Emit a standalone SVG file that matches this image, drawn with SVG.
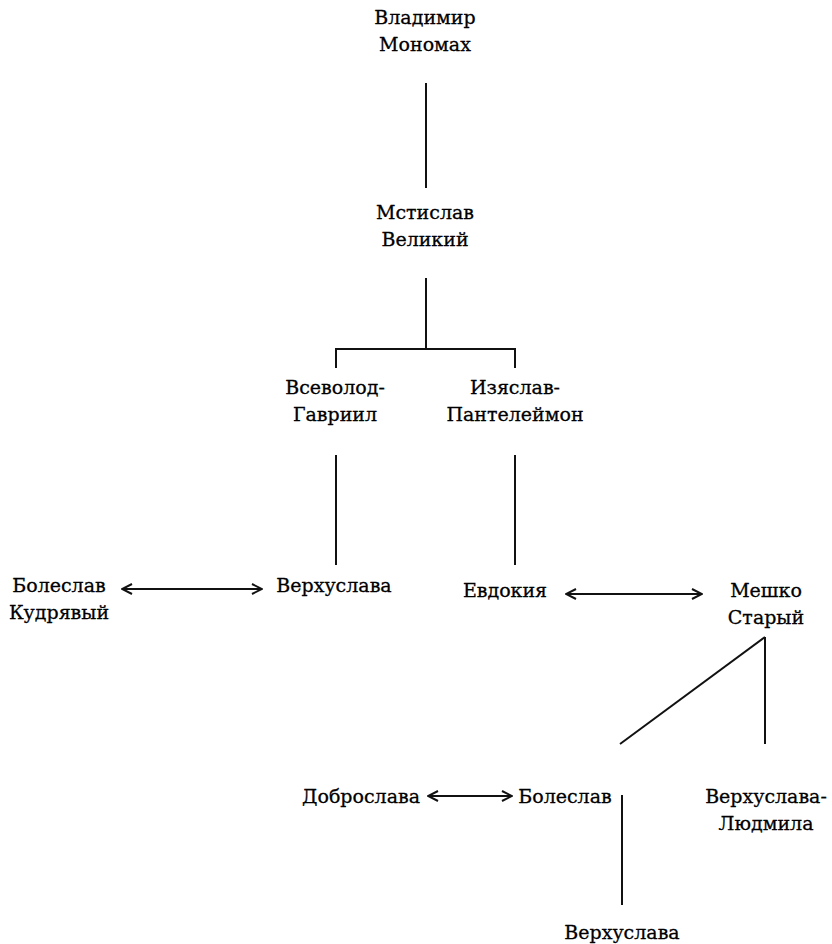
<svg xmlns="http://www.w3.org/2000/svg" width="832" height="944" viewBox="0 0 832 944">
<style>
text{font-family:'DejaVu Serif',serif;font-size:19px;fill:#000;stroke:#000;stroke-width:0.3;text-anchor:middle}
.c line,.c polyline{stroke:#111;stroke-width:2;fill:none}
</style>
<defs>
<marker id="ah" viewBox="0 0 12 12" refX="11" refY="6" markerWidth="12" markerHeight="12" markerUnits="userSpaceOnUse" orient="auto-start-reverse">
<polyline points="1,1 11,6 1,11" fill="none" stroke="#111" stroke-width="2"/>
</marker>
</defs>
<rect width="832" height="944" fill="#fff"/>
<g class="c" id="connectors">
<line x1="426" y1="83" x2="426" y2="188"/>
<line x1="426" y1="278" x2="426" y2="349"/>
<polyline points="336,368 336,349 515,349 515,368"/>
<line x1="336" y1="455" x2="336" y2="565"/>
<line x1="515" y1="455" x2="515" y2="565"/>
<line x1="122" y1="589" x2="262" y2="589" marker-start="url(#ah)" marker-end="url(#ah)"/>
<line x1="566" y1="594" x2="702" y2="594" marker-start="url(#ah)" marker-end="url(#ah)"/>
<line x1="765" y1="637" x2="620" y2="744"/>
<line x1="765" y1="637" x2="765" y2="744"/>
<line x1="428" y1="796" x2="512" y2="796" marker-start="url(#ah)" marker-end="url(#ah)"/>
<line x1="622" y1="795" x2="622" y2="905"/>
</g>
<g id="vladimir"><text x="425" y="24">Владимир</text><text x="425" y="51">Мономах</text></g>
<g id="mstislav"><text x="425" y="219">Мстислав</text><text x="425" y="246">Великий</text></g>
<g id="vsevolod"><text x="335" y="394">Всеволод-</text><text x="335" y="421">Гавриил</text></g>
<g id="izyaslav"><text x="515" y="394">Изяслав-</text><text x="515" y="421">Пантелеймон</text></g>
<g id="boleslav1"><text x="59" y="592">Болеслав</text><text x="59" y="619">Кудрявый</text></g>
<g id="verkhuslava1"><text x="334" y="592">Верхуслава</text></g>
<g id="evdokiya"><text x="505" y="597">Евдокия</text></g>
<g id="meshko"><text x="766" y="597">Мешко</text><text x="766" y="624">Старый</text></g>
<g id="dobroslava"><text x="361" y="803">Доброслава</text></g>
<g id="boleslav2"><text x="565" y="803">Болеслав</text></g>
<g id="verkhuslava2"><text x="766" y="803">Верхуслава-</text><text x="766" y="830">Людмила</text></g>
<g id="verkhuslava3"><text x="622" y="939">Верхуслава</text></g>
</svg>
